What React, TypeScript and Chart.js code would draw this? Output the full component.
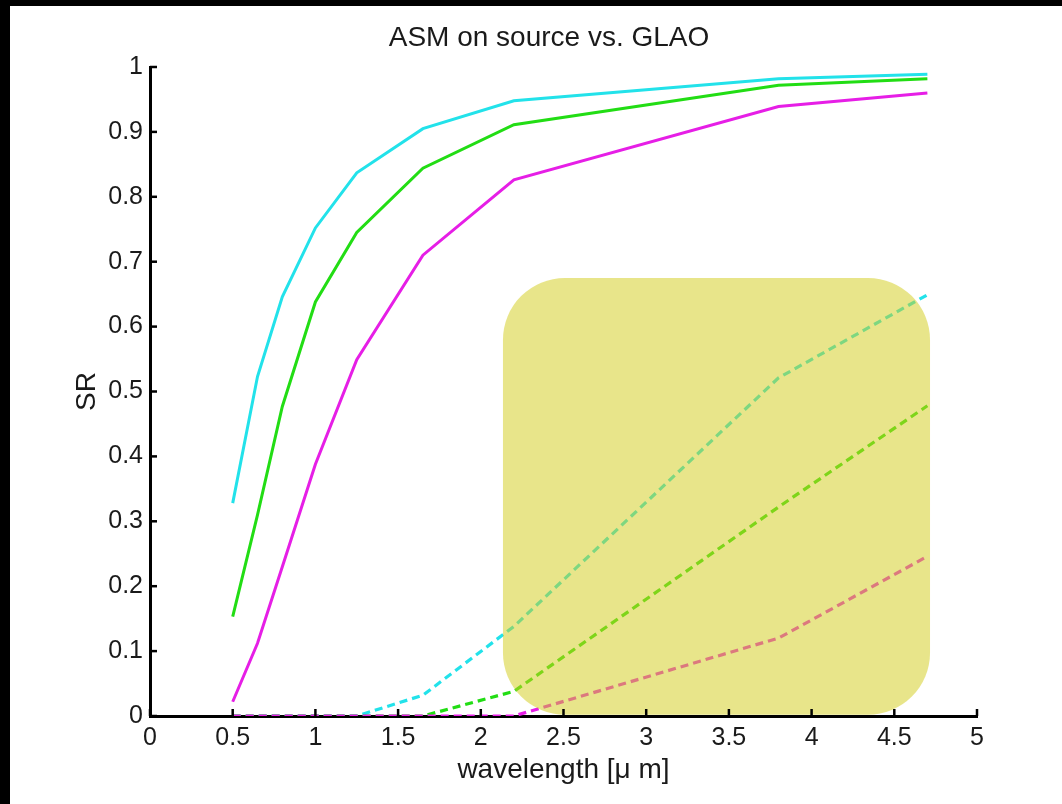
import React, { useEffect, useRef } from 'react';
import { Chart, registerables } from 'chart.js';

Chart.register(...registerables);

// ---- data ----
const WAVELENGTHS = [0.5, 0.65, 0.8, 1.0, 1.25, 1.65, 2.2, 3.8, 4.7];
const ASM_CYAN = [0.328, 0.523, 0.646, 0.752, 0.837, 0.905, 0.948, 0.982, 0.989];
const ASM_GREEN = [0.153, 0.31, 0.477, 0.638, 0.745, 0.844, 0.911, 0.972, 0.982];
const ASM_MAGENTA = [0.022, 0.112, 0.23, 0.388, 0.549, 0.71, 0.826, 0.939, 0.96];
const GLAO_CYAN = [0, 0, 0, 0, 0, 0.032, 0.138, 0.521, 0.649];
const GLAO_GREEN = [0, 0, 0, 0, 0, 0, 0.038, 0.322, 0.478];
const GLAO_MAGENTA = [0, 0, 0, 0, 0, 0, 0, 0.12, 0.246];

const X_TICKS = [0, 0.5, 1, 1.5, 2, 2.5, 3, 3.5, 4, 4.5, 5];
const X_TICK_LABELS = ['0', '0.5', '1', '1.5', '2', '2.5', '3', '3.5', '4', '4.5', '5'];
const Y_TICKS = [0, 0.1, 0.2, 0.3, 0.4, 0.5, 0.6, 0.7, 0.8, 0.9, 1];
const Y_TICK_LABELS = ['0', '0.1', '0.2', '0.3', '0.4', '0.5', '0.6', '0.7', '0.8', '0.9', '1'];

const TITLE = 'ASM on source vs. GLAO';
const X_TITLE = 'wavelength [\u03bc m]';
const Y_TITLE = 'SR';

// highlighted region (in data coordinates)
const HIGHLIGHT_X = [2.134, 4.716];
const HIGHLIGHT_Y = [0.002, 0.675];

const CYAN = '#22e2ea';
const GREEN = '#22dd14';
const MAGENTA = '#e61ee6';
const FONT = "'Liberation Sans', Arial, Helvetica, sans-serif";

const toPoints = (ys: number[]) => WAVELENGTHS.map((x, i) => ({ x, y: ys[i] }));

const highlightPlugin = {
  id: 'highlightBox',
  afterDatasetsDraw(chart: any) {
    const { ctx, scales } = chart;
    const l = scales.x.getPixelForValue(HIGHLIGHT_X[0]);
    const r = scales.x.getPixelForValue(HIGHLIGHT_X[1]);
    const t = scales.y.getPixelForValue(HIGHLIGHT_Y[1]);
    const b = scales.y.getPixelForValue(HIGHLIGHT_Y[0]);
    ctx.save();
    ctx.beginPath();
    (ctx as any).roundRect(l, t, r - l, b - t, 62);
    ctx.fillStyle = 'rgba(210,206,30,0.52)';
    ctx.fill();
    ctx.restore();
  },
};

const inwardTicksPlugin = {
  id: 'inwardTicks',
  afterDraw(chart: any) {
    const { ctx, chartArea, scales } = chart;
    ctx.save();
    ctx.strokeStyle = '#000';
    ctx.lineWidth = 2.5;
    X_TICKS.forEach((v) => {
      const px = scales.x.getPixelForValue(v);
      ctx.beginPath();
      ctx.moveTo(px, chartArea.bottom);
      ctx.lineTo(px, chartArea.bottom - 7);
      ctx.stroke();
    });
    Y_TICKS.forEach((v) => {
      const py = scales.y.getPixelForValue(v);
      ctx.beginPath();
      ctx.moveTo(chartArea.left, py);
      ctx.lineTo(chartArea.left + 7, py);
      ctx.stroke();
    });
    ctx.restore();
  },
};

const titlePlugin = {
  id: 'plotTitle',
  afterDraw(chart: any) {
    const { ctx } = chart;
    ctx.save();
    ctx.fillStyle = '#1a1a1a';
    ctx.font = `28px ${FONT}`;
    ctx.textAlign = 'center';
    ctx.textBaseline = 'middle';
    ctx.fillText(TITLE, 549, 38);
    ctx.restore();
  },
};

export default function App() {
  const canvasRef = useRef<HTMLCanvasElement | null>(null);

  useEffect(() => {
    const canvas = canvasRef.current;
    if (!canvas) return;
    const solid = (label: string, data: number[], color: string) => ({
      label,
      data: toPoints(data),
      borderColor: color,
      backgroundColor: color,
      borderWidth: 3,
      pointRadius: 0,
      tension: 0,
      fill: false,
    });
    const dashed = (label: string, data: number[], color: string) => ({
      ...solid(label, data, color),
      borderWidth: 3.2,
      borderDash: [8, 5],
    });
    const chart = new Chart(canvas, {
      type: 'line',
      data: {
        datasets: [
          dashed('GLAO magenta', GLAO_MAGENTA, MAGENTA),
          dashed('GLAO green', GLAO_GREEN, GREEN),
          dashed('GLAO cyan', GLAO_CYAN, CYAN),
          solid('ASM cyan', ASM_CYAN, CYAN),
          solid('ASM green', ASM_GREEN, GREEN),
          solid('ASM magenta', ASM_MAGENTA, MAGENTA),
        ] as any,
      },
      options: {
        responsive: false,
        animation: false,
        devicePixelRatio: 1,
        layout: { padding: { top: 67, right: 85, bottom: 0, left: 0 } },
        plugins: {
          legend: { display: false },
          title: { display: false },
          tooltip: { enabled: false },
        },
        scales: {
          x: {
            type: 'linear',
            min: 0,
            max: 5,
            grid: { display: false, drawTicks: false },
            border: { display: true, color: '#000', width: 3 },
            afterBuildTicks: (scale: any) => {
              scale.ticks = X_TICKS.map((v) => ({ value: v }));
            },
            afterFit: (scale: any) => {
              scale.height = 88;
            },
            ticks: {
              padding: 7,
              color: '#1a1a1a',
              font: { family: FONT, size: 25 },
              maxRotation: 0,
              autoSkip: false,
              callback: (_v: any, i: number) => X_TICK_LABELS[i],
            },
            title: {
              display: true,
              text: X_TITLE,
              color: '#1a1a1a',
              font: { family: FONT, size: 28 },
              padding: { top: 0, bottom: 17 },
            },
          },
          y: {
            type: 'linear',
            min: 0,
            max: 1,
            grid: { display: false, drawTicks: false },
            border: { display: true, color: '#000', width: 3 },
            afterBuildTicks: (scale: any) => {
              scale.ticks = Y_TICKS.map((v) => ({ value: v }));
            },
            afterFit: (scale: any) => {
              scale.width = 150;
            },
            ticks: {
              padding: 7,
              color: '#1a1a1a',
              font: { family: FONT, size: 25 },
              autoSkip: false,
              callback: (_v: any, i: number) => Y_TICK_LABELS[i],
            },
            title: {
              display: true,
              text: Y_TITLE,
              color: '#1a1a1a',
              font: { family: FONT, size: 28 },
              padding: { top: 70, bottom: 0 },
            },
          },
        },
      } as any,
      plugins: [highlightPlugin, inwardTicksPlugin, titlePlugin],
    });
    return () => chart.destroy();
  }, []);

  return (
    <div
      style={{
        position: 'fixed',
        left: 0,
        top: 0,
        width: 1062,
        height: 804,
        background: '#fff',
        overflow: 'hidden',
      }}
    >
      <canvas ref={canvasRef} width={1062} height={804} style={{ width: 1062, height: 804, display: 'block' }} />
      <div style={{ position: 'absolute', left: 0, top: 0, width: 1062, height: 6, background: '#000' }} />
      <div style={{ position: 'absolute', left: 0, top: 0, width: 10, height: 804, background: '#000' }} />
    </div>
  );
}
